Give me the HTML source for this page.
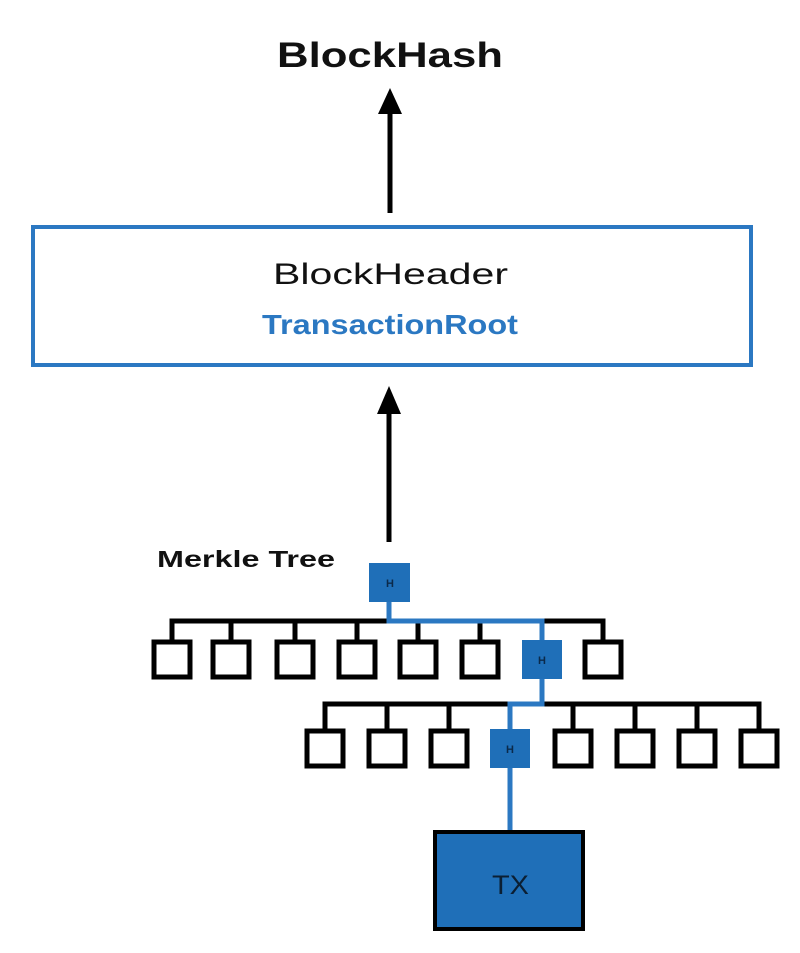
<!DOCTYPE html><html><head><style>body{margin:0;background:#fff}</style></head><body>
<svg width="800" height="948" viewBox="0 0 800 948" xmlns="http://www.w3.org/2000/svg" font-family="Liberation Sans, sans-serif">
<rect width="800" height="948" fill="#fff"/>
<text x="277" y="67" font-size="35" font-weight="bold" textLength="226" lengthAdjust="spacingAndGlyphs" fill="#111">BlockHash</text>
<line x1="390" y1="213" x2="390" y2="110" stroke="#000" stroke-width="5"/>
<polygon points="390,88 378,114 402,114" fill="#000"/>
<rect x="33" y="227" width="718" height="138" fill="none" stroke="#2b78c2" stroke-width="4"/>
<text x="273" y="284" font-size="30" textLength="235" lengthAdjust="spacingAndGlyphs" fill="#111">BlockHeader</text>
<text x="262" y="334" font-size="28" font-weight="bold" textLength="256" lengthAdjust="spacingAndGlyphs" fill="#2b78c2">TransactionRoot</text>
<line x1="389" y1="542" x2="389" y2="410" stroke="#000" stroke-width="5"/>
<polygon points="389,386 377,414 401,414" fill="#000"/>
<text x="157" y="567" font-size="23" font-weight="bold" textLength="178" lengthAdjust="spacingAndGlyphs" fill="#111">Merkle Tree</text>
<g stroke="#000" stroke-width="5" fill="none">
<polyline points="172,640 172,621 603,621 603,640"/>
<line x1="231" y1="621" x2="231" y2="640"/><line x1="295" y1="621" x2="295" y2="640"/><line x1="357" y1="621" x2="357" y2="640"/><line x1="418" y1="621" x2="418" y2="640"/><line x1="480" y1="621" x2="480" y2="640"/>
<rect x="154" y="642" width="36" height="35"/><rect x="213" y="642" width="36" height="35"/><rect x="277" y="642" width="36" height="35"/><rect x="339" y="642" width="36" height="35"/><rect x="400" y="642" width="36" height="35"/><rect x="462" y="642" width="36" height="35"/><rect x="585" y="642" width="36" height="35"/>
<polyline points="325,729 325,704 759,704 759,729"/>
<line x1="387" y1="704" x2="387" y2="729"/><line x1="449" y1="704" x2="449" y2="729"/><line x1="573" y1="704" x2="573" y2="729"/><line x1="635" y1="704" x2="635" y2="729"/><line x1="697" y1="704" x2="697" y2="729"/>
<rect x="307" y="731" width="36" height="35"/><rect x="369" y="731" width="36" height="35"/><rect x="431" y="731" width="36" height="35"/><rect x="555" y="731" width="36" height="35"/><rect x="617" y="731" width="36" height="35"/><rect x="679" y="731" width="36" height="35"/><rect x="741" y="731" width="36" height="35"/>
</g>
<g stroke="#2b78c2" stroke-width="5" fill="none">
<polyline points="389,600 389,621 542,621 542,642"/>
<polyline points="542,678 542,704 510,704 510,731"/>
<line x1="510" y1="766" x2="510" y2="832"/>
</g>
<g fill="#1f6fb8">
<rect x="369" y="563" width="41" height="39"/>
<rect x="522" y="640" width="40" height="39"/>
<rect x="490" y="729" width="40" height="39"/>
</g>
<g font-size="11" font-weight="bold" fill="#0b2a4a" text-anchor="middle">
<text x="390" y="587">H</text><text x="542" y="664">H</text><text x="510" y="753">H</text>
</g>
<rect x="435" y="832" width="148" height="97" fill="#1f6fb8" stroke="#000" stroke-width="4"/>
<text x="492" y="894" font-size="27" textLength="37" lengthAdjust="spacingAndGlyphs" fill="#0b1f33">TX</text>
</svg>
</body></html>
